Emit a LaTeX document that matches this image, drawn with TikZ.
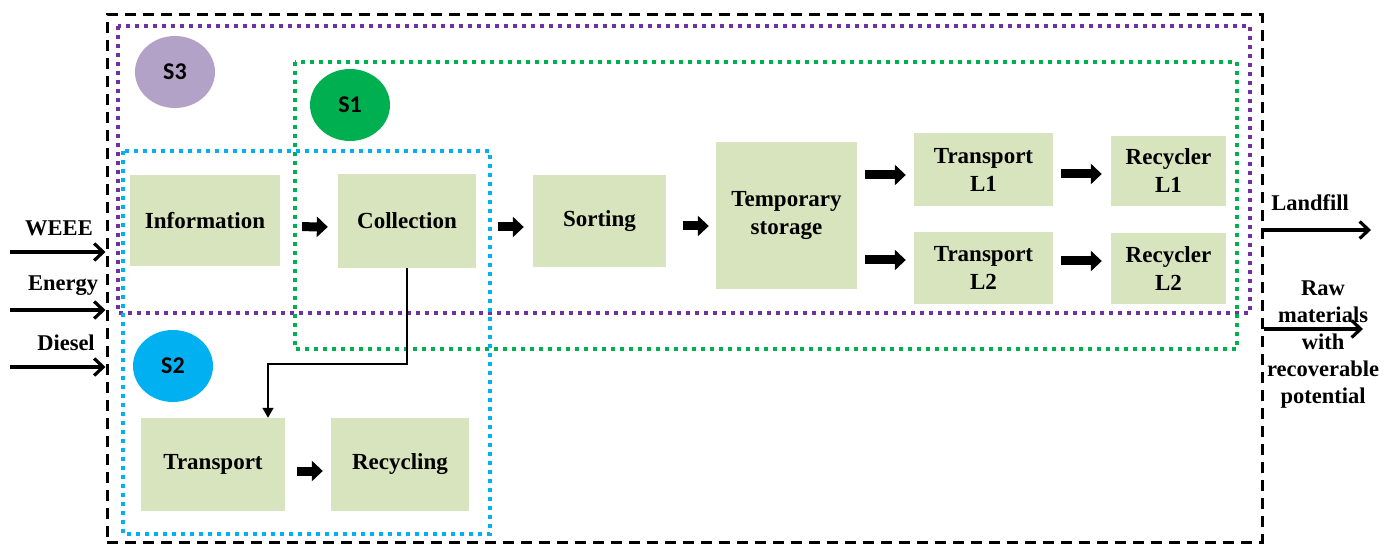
\documentclass[tikz,border=0pt]{standalone}
\usepackage{fontspec}
\setmainfont{Liberation Serif}
\newfontfamily\sfont{Carlito}
\usetikzlibrary{arrows.meta,shapes.geometric}
\definecolor{boxgreen}{HTML}{D7E4BD}
\definecolor{spurple}{HTML}{7030A0}
\definecolor{sgreen}{HTML}{00B050}
\definecolor{sblue}{HTML}{00B0F0}
\definecolor{slav}{HTML}{B3A2C7}
\tikzset{
  box/.style={fill=boxgreen, draw=none, inner sep=0pt, align=center,
    font=\fontsize{23}{28}\selectfont\bfseries},
  lbl/.style={inner sep=0pt, align=center, font=\fontsize{22.5}{27}\selectfont\bfseries},
  fat/.style={line width=9pt, -{Triangle[length=11pt,width=20pt]}},
  thin/.style={line width=3.2pt, -{Straight Barb[length=9pt,width=17pt,line width=3.2pt]}},
  elbow/.style={line width=1.6pt, -{Triangle[length=10pt,width=11pt]}},
  dotbox/.style={line width=4pt, dash pattern=on 4pt off 5pt},
  circ/.style={ellipse, minimum width=80pt, minimum height=72pt, inner sep=0pt,
    font=\fontsize{24}{24}\selectfont\sfont\bfseries}
}
\begin{document}
\begin{tikzpicture}[x=1pt,y=-1pt]
\useasboundingbox (0,0) rectangle (1397,545);
% outer system boundary
\node[draw, line width=3pt, dash pattern=on 11pt off 7pt, minimum width=1155pt, minimum height=527pt, inner sep=0pt] (sys) at (684.5,278.5) {};
% scenario boxes
\draw[dotbox, spurple] (118,26) rectangle (1250,313);
\draw[dotbox, sgreen] (295,62) rectangle (1237,349);
\draw[dotbox, sblue] (123,151) rectangle (490,534);
% scenario circles
\node[circ, fill=slav] (s3) at (175,72) {S3};
\node[circ, fill=sgreen] (s1) at (350,105) {S1};
\node[circ, fill=sblue] (s2) at (173,366) {S2};
% process boxes
\node[box, minimum width=150pt, minimum height=91pt] (info) at (205,220.5) {Information};
\node[box, minimum width=138pt, minimum height=94pt] (coll) at (407,221) {Collection};
\node[box, minimum width=133pt, minimum height=92pt] (sort) at (599.5,221) {Sorting};
\node[box, minimum width=141pt, minimum height=147pt] (temp) at (786.5,215.5) {Temporary\\storage};
\node[box, minimum width=139pt, minimum height=73pt] (tl1) at (983.5,169.5) {Transport\\L1};
\node[box, minimum width=139pt, minimum height=72pt] (tl2) at (983.5,268) {Transport\\L2};
\node[box, minimum width=115pt, minimum height=70pt] (rl1) at (1168.5,171) {Recycler\\L1};
\node[box, minimum width=115pt, minimum height=71pt] (rl2) at (1168.5,268.5) {Recycler\\L2};
\node[box, minimum width=144pt, minimum height=93pt] (trans) at (213,464.5) {Transport};
\node[box, minimum width=138pt, minimum height=93pt] (recy) at (400,464.5) {Recycling};
% fat arrows
\draw[fat, shorten <=22pt, shorten >=10pt] ([yshift=-6pt]info.east) -- ([yshift=-6pt]coll.west);
\draw[fat, shorten <=22pt, shorten >=9pt] ([yshift=-6pt]coll.east) -- ([yshift=-6pt]sort.west);
\draw[fat, shorten <=17pt, shorten >=7pt] ([yshift=-5pt]sort.east) -- (temp.west |- {0,226});
\coordinate (a1) at (0,175);
\coordinate (a2) at (0,260);
\draw[fat, shorten <=8pt, shorten >=8pt] (temp.east |- a1) -- (tl1.west |- a1);
\draw[fat, shorten <=8pt, shorten >=8pt] (temp.east |- a2) -- (tl2.west |- a2);
\coordinate (b1) at (0,174);
\coordinate (b2) at (0,261);
\draw[fat, shorten <=8pt, shorten >=9pt] (tl1.east |- b1) -- (rl1.west |- b1);
\draw[fat, shorten <=8pt, shorten >=9pt] (tl2.east |- b2) -- (rl2.west |- b2);
\draw[fat, shorten <=12pt, shorten >=8pt] ([yshift=-6.5pt]trans.east) -- ([yshift=-6.5pt]recy.west);
% elbow connector
\coordinate (c1) at (268,364);
\draw[elbow] (coll.south) |- (c1) -- (c1 |- trans.north);
% inputs
\coordinate (weee) at (10,252);
\coordinate (energy) at (10,310);
\coordinate (diesel) at (10,367);
\draw[thin] (weee) -- (sys.west |- weee);
\draw[thin] (energy) -- (sys.west |- energy);
\draw[thin] (diesel) -- (sys.west |- diesel);
\node[lbl] (lweee) at (59,228) {WEEE};
\node[lbl] (lenergy) at (63,286) {Energy};
\node[lbl] (ldiesel) at (66,343) {Diesel};
% outputs
\coordinate (land) at (1371,230);
\coordinate (raw) at (1363,329);
\draw[thin] (sys.east |- land) -- (land);
\draw[thin] (sys.east |- raw) -- (raw);
\node[lbl] (lland) at (1310,203) {Landfill};
\node[lbl] (lraw) at (1323,345) {Raw\\materials\\with\\recoverable\\potential};
\end{tikzpicture}
\end{document}
